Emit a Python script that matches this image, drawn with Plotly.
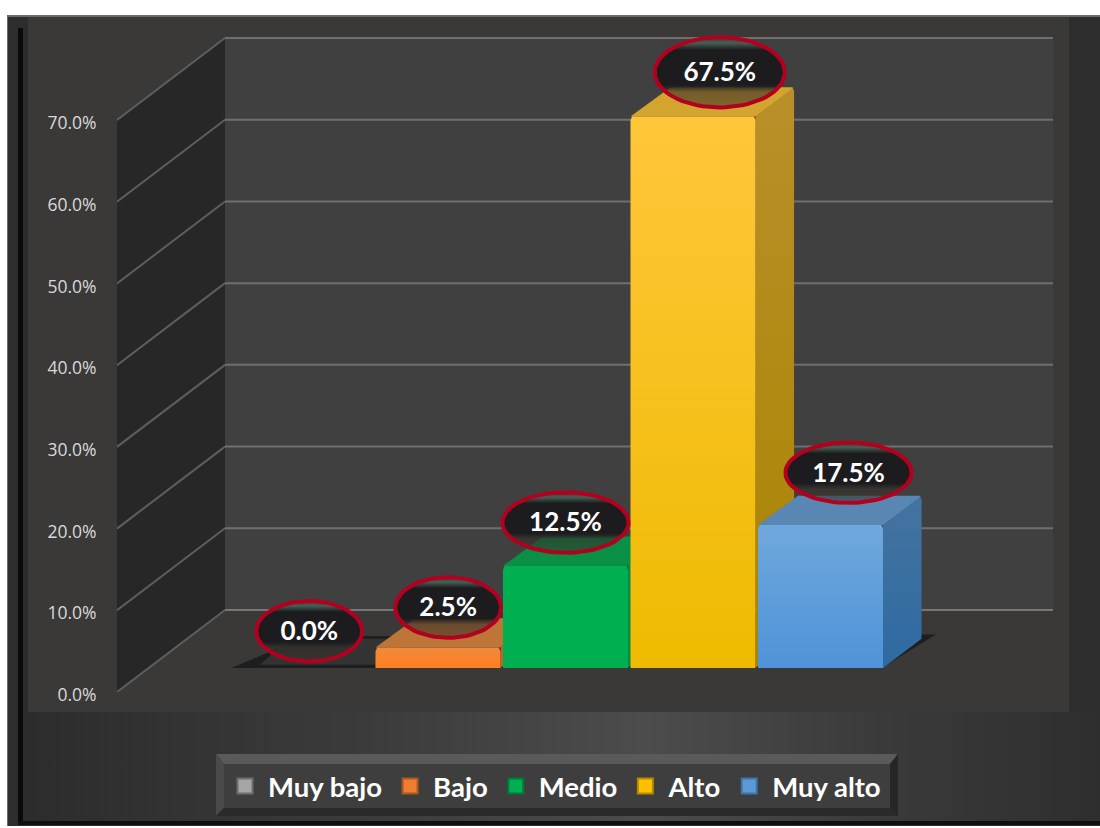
import numpy as np
import plotly.graph_objects as go

# ---- data ----
categories = ["Muy bajo", "Bajo", "Medio", "Alto", "Muy alto"]
values = [0.0, 2.5, 12.5, 67.5, 17.5]
y_ticks = [0, 10, 20, 30, 40, 50, 60, 70]

# ---- styles ----
front_top = ["#a5a5a5", "#f08a3c", "#00b050", "#ffc63a", "#6fa8dc"]
front_bot = ["#a5a5a5", "#ff8020", "#00b050", "#eebb00", "#4f93d8"]
side_top = ["#777777", "#b5672b", "#0a8a45", "#b98f2a", "#44739f"]
side_bot = ["#777777", "#b5672b", "#0a8a45", "#a98400", "#2e6aa2"]
top_col = ["#333333", "#bd7638", "#0a8f47", "#d4a52e", "#5a86b4"]
swatch = ["#a5a5a5", "#ed7d31", "#00b050", "#ffc000", "#5b9bd5"]
swatch_edge = ["#6e6e6e", "#a85a20", "#007a38", "#b58900", "#3f74a8"]

W, H = 1100, 828
PX_Y = 8.171            # pixels per percentage point
PX_X = 127.5            # pixels per category
DX, DY = 108 / PX_X, 82 / PX_Y   # full wall depth in axis units
X_LOW, X_HIGH = -1.2694, 6.0718
Y_TOP = (692 - 20) / PX_Y
BAR_D0, BAR_D1 = 0.293, 0.650
HALF = 62.5 / PX_X
# manual label placement relative to the bar top (x in categories, y in points)
label_dx = [-0.01, 0.08, 0.0, 0.21, 0.22]
label_dy = [4.5, 4.9, 5.3, 5.4, 6.4]
label_rx = [0.415, 0.415, 0.495, 0.51, 0.495]
label_ry = [3.7, 3.7, 3.7, 4.3, 3.7]


def pj(x, v, d):
    return x + d * DX, v + d * DY


def poly(points):
    xs = [p[0] for p in points] + [points[0][0]]
    ys = [p[1] for p in points] + [points[0][1]]
    return xs, ys


def grad(c_top, c_bot):
    return dict(type="vertical", colorscale=[[0, c_bot], [1, c_top]])


fig = go.Figure()


def add_chrome(points, **kw):
    xs, ys = poly(points)
    fig.add_trace(go.Scatter(x=xs, y=ys, mode="lines", fill="toself", line=dict(width=0),
                             hoverinfo="skip", showlegend=False, xaxis="x", yaxis="y", **kw))


# ---- chrome (full-page pixel axes, below the chart) ----
add_chrome([(23, 712), (1100, 712), (1100, 821), (23, 821)],
           fillgradient=dict(type="horizontal", colorscale=[
               [0, "#2c2c2c"], [0.3, "#3a3a3a"], [0.58, "#4c4c4c"], [0.8, "#3a3a3a"], [1, "#2e2e2e"]]))
add_chrome([(216, 754), (898, 754), (890, 764), (224, 764)], fillcolor="#5a5a5a")
add_chrome([(216, 754), (224, 764), (224, 808), (216, 816)], fillcolor="#4a4a4a")
add_chrome([(898, 754), (890, 764), (890, 808), (898, 816)], fillcolor="#262626")
add_chrome([(216, 816), (224, 808), (890, 808), (898, 816)], fillcolor="#2a2a2a")
add_chrome([(224, 764), (890, 764), (890, 808), (224, 808)], fillcolor="#3e3e3e")

# ---- walls, grid (value-driven, main axes) ----
xa, ya = "x2", "y2"


def add_poly(points, **kw):
    xs, ys = poly(points)
    fig.add_trace(go.Scatter(x=xs, y=ys, mode="lines", fill="toself", line=dict(width=0),
                             hoverinfo="skip", showlegend=False, xaxis=xa, yaxis=ya, **kw))


ymax = max(y_ticks)
add_poly([pj(X_LOW, 0, 1), (X_HIGH, DY), (X_HIGH, ymax + DY), pj(X_LOW, ymax, 1)], fillcolor="#404040")
add_poly([pj(X_LOW, 0, 0), pj(X_LOW, 0, 1), pj(X_LOW, ymax, 1), pj(X_LOW, ymax, 0)], fillcolor="#272727")
for t in y_ticks:
    a, b = pj(X_LOW, t, 0), pj(X_LOW, t, 1)
    fig.add_trace(go.Scatter(x=[a[0], b[0]], y=[a[1], b[1]], mode="lines",
                             line=dict(color="#5e5e5e", width=2), hoverinfo="skip",
                             showlegend=False, xaxis=xa, yaxis=ya))
    fig.add_trace(go.Scatter(x=[b[0], X_HIGH], y=[b[1], b[1]], mode="lines",
                             line=dict(color="#6f6f6f" if t else "#8a8a8a", width=2 if t else 1.5),
                             hoverinfo="skip", showlegend=False, xaxis=xa, yaxis=ya))

# floor shadow
add_poly([pj(-0.62, 0, BAR_D0), pj(-0.36, 0, BAR_D1 + 0.03), pj(4.56, 0, BAR_D1 + 0.05), pj(4.48, 0, BAR_D0)],
         fillcolor="#1e1e1e")

# ---- bars ----
cx, cy = 0.012, 0.5
for i, v in enumerate(values):
    l, r = i - HALF, i + HALF
    if v <= 0:
        add_poly([pj(l + 0.06, 0, BAR_D0 + 0.04), pj(l + 0.02, 0, BAR_D1), pj(r, 0, BAR_D1), pj(r, 0, BAR_D0 + 0.04)],
                 fillcolor=top_col[i])
        continue
    add_poly([pj(r, 0, BAR_D0), pj(r, 0, BAR_D1), pj(r, v - cy, BAR_D1), pj(r - cx, v, BAR_D1), pj(r, v, BAR_D0)],
             fillgradient=grad(side_top[i], side_bot[i]))
    add_poly([pj(l, v, BAR_D0), pj(l + cx, v, BAR_D1), pj(r - cx, v, BAR_D1), pj(r, v, BAR_D1 - 0.02), pj(r, v, BAR_D0)],
             fillcolor=top_col[i])
    add_poly([pj(l, 0, BAR_D0), pj(l, v - cy, BAR_D0), pj(l + cx, v, BAR_D0),
              pj(r - cx, v, BAR_D0), pj(r, v - cy, BAR_D0), pj(r, 0, BAR_D0)],
             fillgradient=grad(front_top[i], front_bot[i]))

# ---- data label ellipses ----
theta = np.linspace(0, 2 * np.pi, 73)
for i, v in enumerate(values):
    x0, y0 = pj(i + label_dx[i], v + label_dy[i], BAR_D0)
    fig.add_trace(go.Scatter(
        x=x0 + label_rx[i] * np.cos(theta), y=y0 + label_ry[i] * np.sin(theta),
        mode="lines", fill="toself", line=dict(color="#b4001f", width=4),
        fillgradient=dict(type="vertical", colorscale=[
            [0, "rgba(60,50,40,0.55)"], [0.22, "rgba(50,45,40,0.6)"], [0.32, "rgba(28,28,30,1)"],
            [0.82, "rgba(28,28,30,1)"], [0.92, "rgba(70,95,85,1)"], [1, "rgba(60,60,60,1)"]]),
        hoverinfo="skip", showlegend=False, xaxis=xa, yaxis=ya))
    fig.add_trace(go.Scatter(
        x=[x0], y=[y0 - 0.3], mode="text", text=[f"{v:.1f}%"], textposition="middle center",
        textfont=dict(family="Lato", size=26, color="white", weight=700),
        hoverinfo="skip", showlegend=False, xaxis=xa, yaxis=ya))

# ---- legend entries ----
for name, col, edge in zip(categories, swatch, swatch_edge):
    fig.add_trace(go.Scatter(x=[None], y=[None], mode="markers", name=name,
                             marker=dict(symbol="square", size=15, color=col,
                                         line=dict(color=edge, width=2)),
                             xaxis=xa, yaxis=ya))


def rect(x0, y0, x1, y1, c):
    return dict(type="rect", xref="x", yref="y", x0=x0, y0=y0, x1=x1, y1=y1,
                fillcolor=c, line=dict(width=0), layer="below")


shapes = [
    rect(7, 15, 1100, 826, "#2d2d2d"),
    rect(7, 15, 1100, 17, "#6a6a6a"),
    rect(7, 15, 8, 826, "#6a6a6a"),
    rect(28, 17, 1069, 712, "#3a3938"),
    rect(18, 28, 23, 825, "#0a0a0a"),
    rect(18, 821, 1100, 825, "#0f0f0f"),
]

fig.update_layout(
    width=W, height=H, margin=dict(l=0, r=0, t=0, b=0, autoexpand=False),
    paper_bgcolor="white", plot_bgcolor="rgba(0,0,0,0)",
    shapes=shapes,
    xaxis=dict(domain=[0, 1], range=[0, W], visible=False, anchor="y", fixedrange=True),
    yaxis=dict(domain=[0, 1], range=[H, 0], visible=False, anchor="x", fixedrange=True),
    xaxis2=dict(domain=[117 / W, 1053 / W], range=[X_LOW, X_HIGH], visible=False, anchor="y2",
                showgrid=False, zeroline=False),
    yaxis2=dict(domain=[(H - 692) / H, (H - 20) / H], range=[0, Y_TOP], anchor="x2",
                tickvals=y_ticks, ticktext=[f"{t:.1f}%" for t in y_ticks],
                showgrid=False, zeroline=False, showline=False,
                ticks="outside", ticklen=16, tickcolor="rgba(0,0,0,0)", ticklabelshift=3,
                tickfont=dict(family="Open Sans", size=17.5, color="#d9d9d9")),
    legend=dict(orientation="h", x=222 / W, xanchor="left", y=(H - 786) / H, yanchor="middle",
                bgcolor="rgba(0,0,0,0)", borderwidth=0, itemwidth=36,
                font=dict(family="Lato", size=27.5, color="white", weight=700)),
    showlegend=True,
)

fig.write_html("out.html", config={"displayModeBar": False},
               post_script="document.body.style.margin='0';")
